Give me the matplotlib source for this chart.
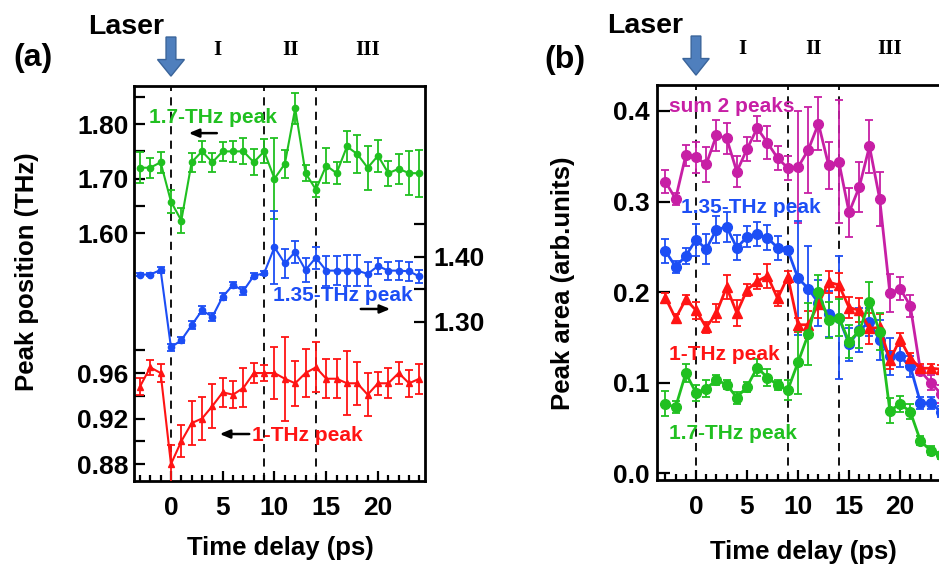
import matplotlib
matplotlib.use("Agg")
import matplotlib.pyplot as plt
import matplotlib.patches as mpatches
import numpy as np

plt.rcParams['font.family'] = ['Liberation Sans', 'DejaVu Sans']
plt.rcParams['font.weight'] = 'bold'

# ---- data ----
time = list(range(-3, 25))
region_bounds = [0, 9, 14]
region_names = ["I", "II", "III"]
region_centers = [4.5, 11.5, 19.0]

# (a) peak positions
pos_17 = [1.72, 1.72, 1.73, 1.658, 1.623, 1.73, 1.75, 1.73, 1.75, 1.75, 1.75, 1.73, 1.75, 1.70,
          1.727, 1.829, 1.71, 1.68, 1.724, 1.71, 1.759, 1.745, 1.72, 1.742, 1.71, 1.718, 1.71, 1.71]
err_17 = [0.028, 0.018, 0.019, 0.021, 0.023, 0.017, 0.019, 0.017, 0.018, 0.019, 0.024, 0.024, 0.022, 0.074,
          0.026, 0.029, 0.015, 0.014, 0.032, 0.02, 0.029, 0.035, 0.04, 0.029, 0.023, 0.027, 0.04, 0.043]
pos_135 = [1.373, 1.373, 1.380, 1.261, 1.272, 1.295, 1.318, 1.308, 1.339, 1.357, 1.348, 1.371, 1.375, 1.415,
           1.390, 1.408, 1.380, 1.399, 1.379, 1.379, 1.379, 1.379, 1.374, 1.386, 1.379, 1.379, 1.378, 1.370]
err_135 = [0.003, 0.003, 0.005, 0.005, 0.005, 0.006, 0.006, 0.006, 0.005, 0.005, 0.006, 0.004, 0.003, 0.056,
           0.022, 0.017, 0.019, 0.017, 0.023, 0.022, 0.024, 0.024, 0.019, 0.012, 0.014, 0.015, 0.015, 0.010]
pos_1 = [0.948, 0.965, 0.96, 0.88, 0.90, 0.916, 0.92, 0.931, 0.943, 0.941, 0.947, 0.96, 0.96, 0.96,
         0.955, 0.951, 0.96, 0.965, 0.955, 0.955, 0.951, 0.951, 0.941, 0.951, 0.951, 0.96, 0.951, 0.955]
err_1 = [0.0074, 0.0066, 0.008, 0.017, 0.014, 0.019, 0.019, 0.019, 0.0125, 0.012, 0.017, 0.009, 0.0074, 0.023,
         0.037, 0.02, 0.021, 0.022, 0.017, 0.017, 0.028, 0.019, 0.019, 0.01, 0.013, 0.01, 0.012, 0.013]

# (b) peak areas
area_sum = [0.322, 0.303, 0.351, 0.349, 0.341, 0.373, 0.370, 0.333, 0.358, 0.381, 0.365, 0.348, 0.337, 0.338,
            0.357, 0.386, 0.340, 0.344, 0.288, 0.316, 0.361, 0.303, 0.199, 0.204, 0.185, 0.113, 0.100, 0.088]
err_sum = [0.0125, 0.007, 0.012, 0.017, 0.019, 0.017, 0.017, 0.017, 0.013, 0.014, 0.018, 0.013, 0.013, 0.062,
           0.047, 0.029, 0.026, 0.068, 0.027, 0.028, 0.029, 0.030, 0.021, 0.013, 0.012, 0.005, 0.008, 0.01]
area_135 = [0.2456, 0.228, 0.240, 0.258, 0.2475, 0.269, 0.272, 0.249, 0.261, 0.264, 0.260, 0.249, 0.246, 0.2155,
            0.204, 0.188, 0.176, 0.172, 0.1425, 0.158, 0.167, 0.147, 0.129, 0.129, 0.118, 0.078, 0.0775, 0.068]
err_135b = [0.013, 0.0065, 0.0087, 0.0177, 0.0166, 0.0147, 0.0166, 0.014, 0.0115, 0.013, 0.0138, 0.013, 0.004, 0.063,
            0.047, 0.025, 0.025, 0.068, 0.018, 0.024, 0.015, 0.022, 0.02, 0.012, 0.012, 0.0065, 0.0065, 0.006]
area_1 = [0.194, 0.171, 0.192, 0.180, 0.161, 0.177, 0.2055, 0.177, 0.2025, 0.212, 0.218, 0.193, 0.217, 0.164,
          0.164, 0.187, 0.211, 0.208, 0.183, 0.180, 0.160, 0.161, 0.125, 0.148, 0.127, 0.116, 0.116, 0.115]
err_1b = [0.005, 0.005, 0.005, 0.0095, 0.0065, 0.01, 0.013, 0.014, 0.0065, 0.008, 0.013, 0.008, 0.0065, 0.008,
          0.015, 0.015, 0.012, 0.013, 0.012, 0.013, 0.017, 0.015, 0.01, 0.007, 0.006, 0.005, 0.005, 0.005]
area_17 = [0.0766, 0.073, 0.1105, 0.089, 0.0935, 0.103, 0.098, 0.0835, 0.0957, 0.1167, 0.1057, 0.0976, 0.092, 0.1226,
           0.1535, 0.200, 0.169, 0.172, 0.1455, 0.157, 0.189, 0.1565, 0.069, 0.0766, 0.068, 0.0357, 0.025, 0.02]
err_17b = [0.0138, 0.0065, 0.01, 0.009, 0.0095, 0.005, 0.005, 0.0065, 0.0055, 0.0095, 0.0095, 0.0055, 0.011, 0.035,
           0.034, 0.019, 0.02, 0.02, 0.018, 0.019, 0.022, 0.02, 0.014, 0.009, 0.008, 0.005, 0.005, 0.004]

GREEN = '#20c020'
BLUE = '#1c4ef5'
RED = '#ff1414'
MAGENTA = '#c71fa5'
ARROW_FC = '#4f7fbd'
ARROW_EC = '#3a649a'

TICK_FS = 19
LABEL_FS = 18.5
NOTE_FS = 15


def style_ticks(ax):
    ax.tick_params(which='both', direction='in', width=1.6, labelsize=TICK_FS)
    ax.tick_params(which='major', length=8)
    ax.tick_params(which='minor', length=4)
    for lab in ax.get_xticklabels() + ax.get_yticklabels():
        lab.set_fontweight('bold')


def overlay(fig, pos, xlim):
    ax = fig.add_axes(pos)
    ax.patch.set_visible(False)
    for s in ax.spines.values():
        s.set_visible(False)
    ax.set_xlim(*xlim)
    ax.tick_params(axis='x', which='both', bottom=False, labelbottom=False)
    return ax


def laser_marks(ax, x_laser, text_dx):
    tr = ax.get_xaxis_transform()
    arr = mpatches.FancyArrow(x_laser, 1.124, 0, -0.099, width=0.95, head_width=2.6,
                              head_length=0.042, length_includes_head=True,
                              fc=ARROW_FC, ec=ARROW_EC, lw=1.0, transform=tr, clip_on=False)
    ax.add_patch(arr)
    ax.text(x_laser + text_dx, 1.149, "Laser", transform=tr, fontsize=20.5,
            fontweight='bold', ha='center', va='center')
    for name, xc in zip(region_names, region_centers):
        ax.text(xc, 1.09, name, transform=tr, fontsize=15, fontweight='bold',
                family='Liberation Serif', ha='center', va='center')


def eb(ax, y, e, color, marker, ms, lw=1.5):
    ax.errorbar(time, y, yerr=e, fmt='-' + marker, color=color, ms=ms, lw=lw,
                elinewidth=1.3, capsize=3, capthick=1.3)


fig = plt.figure(figsize=(9.39, 5.64), dpi=100)

# ---------------- panel (a) ----------------
pos_a = [134 / 939, 1 - 481 / 564, 291 / 939, 395 / 564]
xlim_a = (-3.57, 24.54)

ax_g = fig.add_axes(pos_a)
ax_g.set_xlim(*xlim_a)
ax_g.set_ylim(1.145, 1.870)
for s in ax_g.spines.values():
    s.set_linewidth(2)
ax_g.set_xticks([0, 5, 10, 15, 20])
ax_g.set_xticks(time, minor=True)
ax_g.set_yticks([1.60, 1.70, 1.80])
ax_g.set_yticks([1.65, 1.75, 1.85], minor=True)
ax_g.set_yticklabels(['1.60', '1.70', '1.80'])
ax_g.tick_params(axis='x', which='both', pad=11, top=False)
ax_g.tick_params(axis='y', which='both', pad=4, right=False)
style_ticks(ax_g)
ax_g.tick_params(axis='y', which='both', length=8)
ax_g.tick_params(axis='x', which='major', length=7)
ax_g.tick_params(axis='x', which='minor', length=4.5)
for xb in region_bounds:
    ax_g.axvline(xb, color='black', lw=1.3, ls=(0, (4.5, 3.5)), zorder=0)
eb(ax_g, pos_17, err_17, GREEN, 'o', 4.5)
ax_g.text(4.06, 1.813, "1.7-THz peak", color=GREEN, fontsize=NOTE_FS, fontweight='bold',
          ha='center', va='center')
ax_g.annotate('', xy=(1.45, 1.7835), xytext=(4.7, 1.7835),
              arrowprops=dict(arrowstyle='-|>,head_length=0.6,head_width=0.25', color='black', lw=1.8))
laser_marks(ax_g, region_bounds[0], -4.35)

ax_b = overlay(fig, pos_a, xlim_a)
ax_b.set_ylim(1.0554, 1.663)
ax_b.yaxis.tick_right()
ax_b.set_yticks([1.30, 1.40])
ax_b.set_yticks([1.35, 1.45], minor=True)
ax_b.set_yticklabels(['1.30', '1.40'])
ax_b.tick_params(axis='y', which='both', left=False, right=True, pad=6)
style_ticks(ax_b)
ax_b.tick_params(axis='y', which='both', length=8)
eb(ax_b, pos_135, err_135, BLUE, 'o', 4.5)
ax_b.text(16.6, 1.3415, "1.35-THz peak", color=BLUE, fontsize=NOTE_FS, fontweight='bold',
          ha='center', va='center')
ax_b.annotate('', xy=(21.45, 1.320), xytext=(18.07, 1.320),
              arrowprops=dict(arrowstyle='-|>,head_length=0.6,head_width=0.25', color='black', lw=1.8))

ax_r = overlay(fig, pos_a, xlim_a)
ax_r.set_ylim(0.8651, 1.2123)
ax_r.set_yticks([0.88, 0.92, 0.96])
ax_r.set_yticks([0.90, 0.94, 0.98], minor=True)
ax_r.set_yticklabels(['0.88', '0.92', '0.96'])
ax_r.tick_params(axis='y', which='both', pad=4, right=False)
style_ticks(ax_r)
ax_r.tick_params(axis='y', which='both', length=8)
eb(ax_r, pos_1, err_1, RED, '^', 5)
ax_r.text(13.2, 0.9055, "1-THz peak", color=RED, fontsize=NOTE_FS, fontweight='bold',
          ha='center', va='center')
ax_r.annotate('', xy=(4.44, 0.9064), xytext=(7.83, 0.9064),
              arrowprops=dict(arrowstyle='-|>,head_length=0.6,head_width=0.25', color='black', lw=1.8))

fig.text(27 / 939, 1 - 272 / 564, "Peak position (THz)", rotation=90, fontsize=LABEL_FS,
         fontweight='bold', ha='center', va='center')
fig.text(280 / 939, 1 - 548 / 564, "Time delay (ps)", fontsize=LABEL_FS, fontweight='bold',
         ha='center', va='center')
fig.text(33 / 939, 1 - 58 / 564, "(a)", fontsize=23, fontweight='bold', ha='center', va='center')

# ---------------- panel (b) ----------------
pos_b = [657 / 939, 1 - 480 / 564, (946 - 657) / 939, 395 / 564]
ax2 = fig.add_axes(pos_b)
ax2.set_xlim(-3.82, 24.5)
ax2.set_ylim(-0.0074, 0.4287)
for s in ax2.spines.values():
    s.set_linewidth(2)
ax2.set_xticks([0, 5, 10, 15, 20])
ax2.set_xticks(time, minor=True)
ax2.set_yticks([0.0, 0.1, 0.2, 0.3, 0.4])
ax2.set_yticklabels(['0.0', '0.1', '0.2', '0.3', '0.4'])
ax2.tick_params(axis='x', which='both', pad=11, top=False)
ax2.tick_params(axis='y', which='both', pad=5, right=False)
style_ticks(ax2)
ax2.tick_params(axis='y', which='major', length=9)
ax2.tick_params(axis='x', which='major', length=7)
ax2.tick_params(axis='x', which='minor', length=4.5)
for xb in region_bounds:
    ax2.axvline(xb, color='black', lw=1.3, ls=(0, (4.5, 3.5)), zorder=0)

eb(ax2, area_sum, err_sum, MAGENTA, 'o', 7, lw=2)
eb(ax2, area_135, err_135b, BLUE, 'o', 7, lw=2)
eb(ax2, area_1, err_1b, RED, '^', 7.5, lw=2)
eb(ax2, area_17, err_17b, GREEN, 'o', 7, lw=2)

ax2.text(-2.65, 0.405, "sum 2 peaks", color=MAGENTA, fontsize=NOTE_FS, fontweight='bold',
         ha='left', va='center')
ax2.text(-1.47, 0.293, "1.35-THz peak", color=BLUE, fontsize=NOTE_FS, fontweight='bold',
         ha='left', va='center')
ax2.text(-2.65, 0.131, "1-THz peak", color=RED, fontsize=NOTE_FS, fontweight='bold',
         ha='left', va='center')
ax2.text(-2.65, 0.0434, "1.7-THz peak", color=GREEN, fontsize=NOTE_FS, fontweight='bold',
         ha='left', va='center')
laser_marks(ax2, region_bounds[0], -5.0)

fig.text(563 / 939, 1 - 283 / 564, "Peak area (arb.units)", rotation=90, fontsize=LABEL_FS,
         fontweight='bold', ha='center', va='center')
fig.text(803 / 939, 1 - 552 / 564, "Time delay (ps)", fontsize=LABEL_FS, fontweight='bold',
         ha='center', va='center')
fig.text(565 / 939, 1 - 60 / 564, "(b)", fontsize=23, fontweight='bold', ha='center', va='center')

fig.savefig('out.png', dpi=100)
